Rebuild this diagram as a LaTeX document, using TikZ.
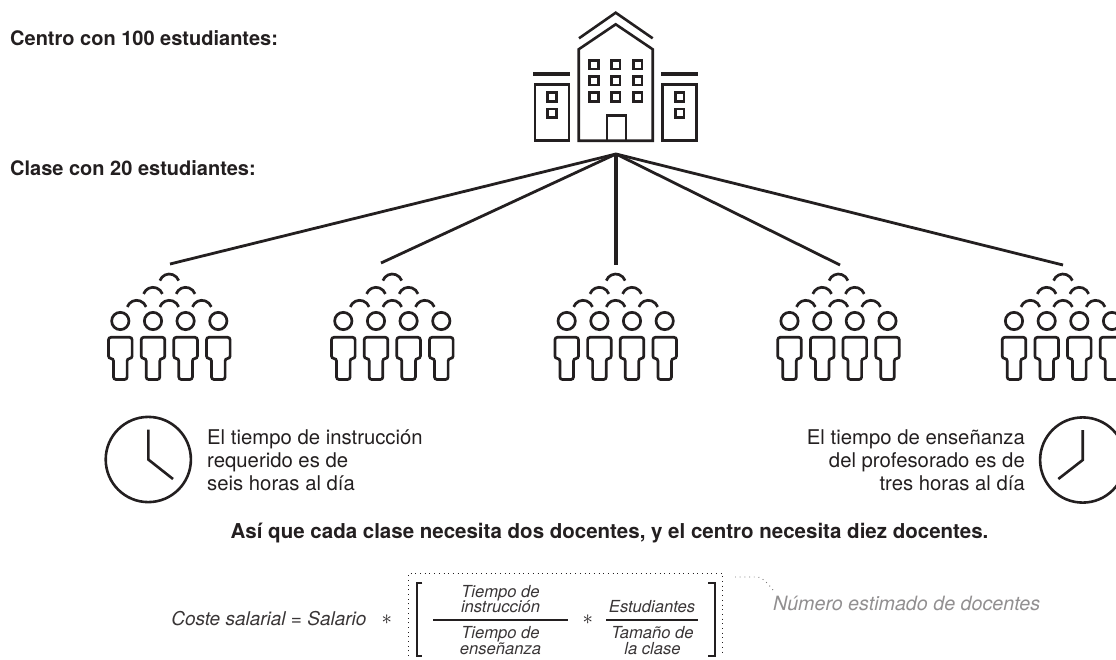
\documentclass[tikz,border=0pt]{standalone}
\usepackage{fontspec}
\setmainfont{TeX Gyre Heros}
\definecolor{ink}{HTML}{231F20}
\tikzset{
  ic/.style={draw=ink,line width=2.6pt,line join=miter},
  pers/.style={draw=ink,line width=2.7pt},
  win/.style={draw=ink,line width=2.9pt},
  link/.style={draw=ink,line width=2.8pt},
  txt/.style={font=\fontsize{20.3}{22.6}\selectfont,text=ink,inner sep=0pt,align=left},
  bld/.style={font=\fontsize{20}{22}\selectfont\bfseries,text=ink,inner sep=0pt},
  frm/.style={font=\fontsize{16.6}{15.8}\selectfont\itshape,text=ink!90,inner sep=0pt,align=center},
  dots/.style={draw=ink,line width=.9pt,dash pattern=on .9pt off 3.8pt},
}
\newcommand{\wnd}[2]{\draw[win] (#1-4.3,#2-4.3) rectangle (#1+4.3,#2+4.3);}
\newcommand{\crowd}[2]{%
 \begin{scope}[shift={(#1,#2)}]
  \foreach \x in {-49,-16.3,16.3,49}{
    \draw[pers] (\x,0) circle (8.65);
    \draw[pers,rounded corners=2.5pt] (\x-6.8,58.5) -- (\x-6.8,37.5) -- (\x-11.8,37.5) -- (\x-11.8,16.3) -- (\x+11.8,16.3) -- (\x+11.8,37.5) -- (\x+6.8,37.5) -- (\x+6.8,58.5) -- cycle;
  }
  \foreach \x/\y in {0/-47,-16.3/-33.7,16.3/-33.7,-32.6/-20.7,0/-20.7,32.6/-20.7}{
    \draw[pers] (\x-9.4,\y+6.6) arc[start angle=200,end angle=340,radius=10];
  }
 \end{scope}}
\newcommand{\clockface}[4]{%
  \draw[ic] (#1,#2) circle (42.6);
  \draw[ic] (#1,#2-30) -- (#1,#2) -- (#3,#4);}
\begin{document}
\begin{tikzpicture}[x=1pt,y=-1pt]
\useasboundingbox (0,0) rectangle (1116,659);
% building
\coordinate (hub) at (616,154);
\draw[ic] (579,38.3) -- (615.7,12.7) -- (652.7,38.3);
\draw[ic] (578.7,140.7) -- (578.7,49.3) -- (615.7,24.3) -- (652.7,49.3) -- (652.7,140.7) -- cycle;
\draw[ic] (606.9,140.7) -- (606.9,115.3) -- (626,115.3) -- (626,140.7);
\foreach \x in {594,615.7,637.7}\foreach \y in {64.7,80.7,97}{\wnd{\x}{\y}}
\draw[draw=ink,line width=4pt] (533,74) -- (570,74);
\draw[draw=ink,line width=4pt] (661,74) -- (698,74);
\draw[ic] (535,84.7) rectangle (569,140.7);
\draw[ic] (662.7,84.7) rectangle (696.7,140.7);
\foreach \x in {552,679.7}\foreach \y in {97,113.3}{\wnd{\x}{\y}}
% links
\coordinate (c1) at (170,264);
\coordinate (c2) at (381,263);
\coordinate (c3) at (616,265);
\coordinate (c4) at (840,265);
\coordinate (c5) at (1063,265);
\draw[link] (hub) -- (c1);
\draw[link] (hub) -- (c2);
\draw[link,line width=3.2pt] (hub) -- (c3);
\draw[link] (hub) -- (c4);
\draw[link] (hub) -- (c5);
% crowds
\crowd{169.3}{321}
\crowd{392.3}{321}
\crowd{615.7}{321}
\crowd{838.5}{321}
\crowd{1063}{321}
% clocks
\clockface{148.3}{459.5}{173}{479}
\clockface{1082.7}{460}{1058.3}{479}
% text
\node[bld,anchor=base west] (t1) at (10,45) {Centro con 100 estudiantes:};
\node[bld,anchor=base west] (t2) at (10,175.7) {Clase con 20 estudiantes:};
\node[txt,anchor=north west] (t3) at (207,429.8) {El tiempo de instrucción\\requerido es de\\seis horas al día};
\node[txt,anchor=north east,align=right] (t4) at (1025,429.8) {El tiempo de enseñanza\\del profesorado es de\\tres horas al día};
\node[bld,font=\fontsize{20.5}{22}\selectfont\bfseries,anchor=base] (t5) at (609.5,538.3) {Así que cada clase necesita dos docentes, y el centro necesita diez docentes.};
% formula
\node[frm,anchor=base east] (f1) at (366.7,625) {\fontsize{19}{19}\selectfont Coste salarial = Salario};
\node[inner sep=0pt,text=ink] (s1) at (386.7,620) {\fontsize{20}{20}\selectfont$\ast$};
\draw[dots] (408.7,656) -- (408.7,573.3) -- (722.5,573.3) -- (722.5,656);
\draw[draw=ink,line width=1.7pt] (422.3,583.3) -- (416.7,583.3) -- (416.7,656) -- (422.3,656);
\draw[draw=ink,line width=1.7pt] (708.3,583.3) -- (715,583.3) -- (715,656) -- (708.3,656);
\draw[draw=ink,line width=1.6pt] (433.3,620) -- (568.3,620);
\draw[draw=ink,line width=1.6pt] (606,620) -- (698.3,620);
\node[frm,anchor=south] (f2) at (500.5,613.3) {Tiempo de\\instrucción};
\node[frm,anchor=north] (f3) at (500.5,626) {Tiempo de\\enseñanza};
\node[inner sep=0pt,text=ink] (s2) at (587.7,620) {\fontsize{20}{20}\selectfont$\ast$};
\node[frm,anchor=south] (f4) at (652,613.3) {Estudiantes};
\node[frm,anchor=north] (f5) at (652.5,626) {Tamaño de\\la clase};
\coordinate (la) at (735,577);
\coordinate (lb) at (773,590);
\draw[dots,draw=ink!60] (la) -- (758,577) .. controls (763,577.5) and (768,584) .. (lb);
\node[font=\fontsize{19.7}{22}\selectfont\itshape,text=ink!50,inner sep=0pt,anchor=base west] (f6) at (773,610.7) {Número estimado de docentes};
\end{tikzpicture}
\end{document}
